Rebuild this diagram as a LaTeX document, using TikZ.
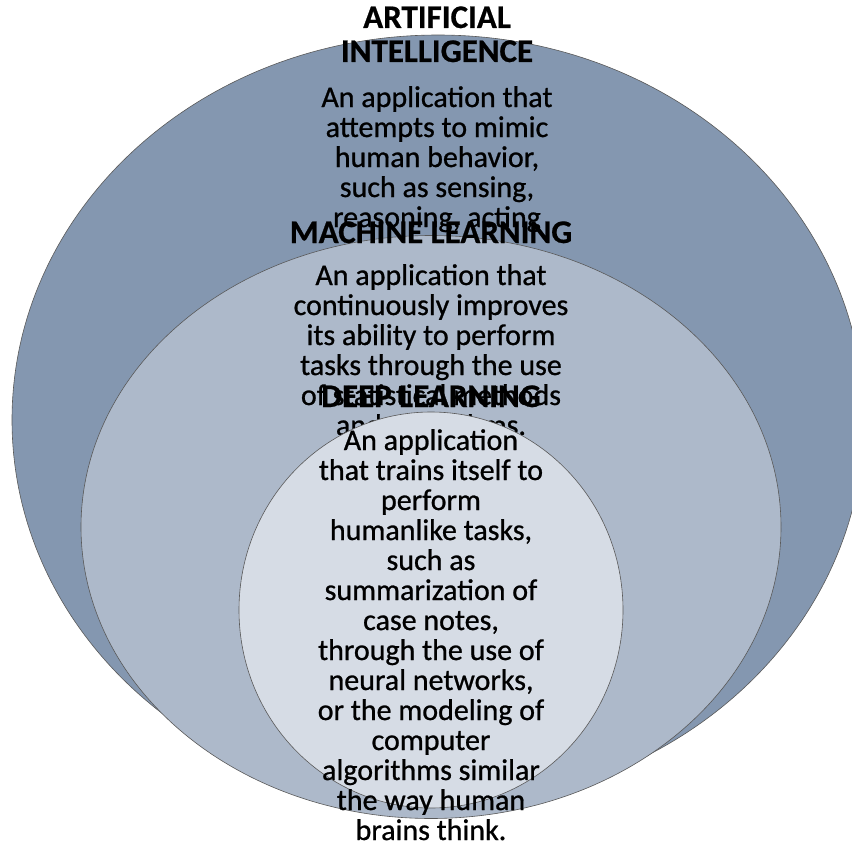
\documentclass[tikz,border=0pt]{standalone}
\usepackage{fontspec}
\setmainfont{Carlito}
\newfontfamily\bodyface{Carlito}[FakeBold=0.8]
\newfontfamily\headface{Carlito Bold}[FakeBold=0.6]
\usetikzlibrary{shapes.geometric}

\definecolor{ringdark}{HTML}{8497B0}
\definecolor{ringmid}{HTML}{ADB9CA}
\definecolor{ringlight}{HTML}{D6DCE5}

\begin{document}
\begin{tikzpicture}[x=1pt,y=-1pt,
	ringshape/.style={ellipse,draw=black!65,line width=0.6pt,inner sep=0pt},
	headtext/.style={anchor=base,align=center,inner sep=0pt,font=\fontsize{33pt}{34pt}\headface},
	bodytext/.style={anchor=base,align=center,inner sep=0pt,font=\fontsize{30pt}{30pt}\bodyface}]
	\useasboundingbox (0,0) rectangle (852,843);
	\clip (0,0) rectangle (852,843);

	% artificial intelligence (base = last line)
	\node[ringshape,fill=ringdark,minimum width=852pt,minimum height=770pt] (AI) at (438,420) {};
	\node[headtext] (AIhead) at (437,62) {ARTIFICIAL\\INTELLIGENCE};
	\node[bodytext] (AIbody) at (437,227) {An application that\\attempts to mimic\\human behavior,\\such as sensing,\\reasoning, acting};

	% machine learning
	\node[ringshape,fill=ringmid,minimum width=700pt,minimum height=583pt] (ML) at (431,527) {};
	\node[headtext] (MLhead) at (431,243) {MACHINE LEARNING};
	\node[bodytext] (MLbody) at (431,435) {An application that\\continuously improves\\its ability to perform\\tasks through the use\\of statistical methods\\and algorithms.};

	% deep learning
	\node[headtext] (DLhead) at (431,407) {DEEP LEARNING};
	\node[ringshape,fill=ringlight,minimum width=384pt,minimum height=396pt] (DL) at (431,610) {};
	\node[bodytext] (DLbody) at (431,840) {An application\\that trains itself to\\perform\\humanlike tasks,\\such as\\summarization of\\case notes,\\through the use of\\neural networks,\\or the modeling of\\computer\\algorithms similar\\the way human\\brains think.};
\end{tikzpicture}
\end{document}
